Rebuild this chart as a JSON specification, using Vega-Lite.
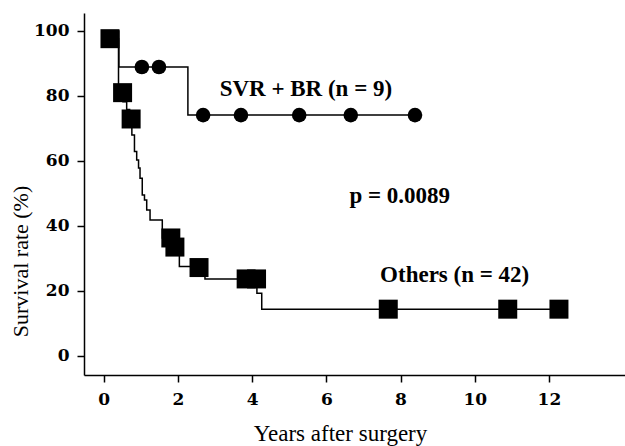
{
  "$schema": "https://vega.github.io/schema/vega-lite/v6.json",
  "width": 541,
  "height": 362,
  "autosize": {"type": "none"},
  "padding": {"left": 84, "top": 13, "right": 0, "bottom": 71},
  "background": "white",
  "config": {
    "view": {"stroke": null},
    "axis": {
      "grid": false,
      "domainColor": "black",
      "tickColor": "black",
      "labelColor": "black",
      "titleColor": "black",
      "labelFont": "DejaVu Serif",
      "labelFontWeight": "bold",
      "labelFontSize": 17,
      "titleFont": "Liberation Serif",
      "titleFontWeight": "normal",
      "titleFontSize": 22,
      "tickSize": 7,
      "domainWidth": 1.5,
      "tickWidth": 1.5
    }
  },
  "datasets": {
    "curves": [
      {"group": "SVR", "t": 0, "s": 100},
      {"group": "SVR", "t": 0.41, "s": 88.9},
      {"group": "SVR", "t": 2.27, "s": 74.1},
      {"group": "SVR", "t": 8.39, "s": 74.1},
      {"group": "Others", "t": 0, "s": 100},
      {"group": "Others", "t": 0.10, "s": 97.6},
      {"group": "Others", "t": 0.40, "s": 83.0},
      {"group": "Others", "t": 0.52, "s": 78.2},
      {"group": "Others", "t": 0.62, "s": 75.8},
      {"group": "Others", "t": 0.70, "s": 72.9},
      {"group": "Others", "t": 0.76, "s": 68.0},
      {"group": "Others", "t": 0.83, "s": 62.9},
      {"group": "Others", "t": 0.89, "s": 60.3},
      {"group": "Others", "t": 0.94, "s": 57.8},
      {"group": "Others", "t": 0.98, "s": 54.7},
      {"group": "Others", "t": 1.04, "s": 49.5},
      {"group": "Others", "t": 1.10, "s": 48.0},
      {"group": "Others", "t": 1.16, "s": 44.9},
      {"group": "Others", "t": 1.25, "s": 41.8},
      {"group": "Others", "t": 1.58, "s": 36.3},
      {"group": "Others", "t": 1.85, "s": 33.5},
      {"group": "Others", "t": 2.04, "s": 27.5},
      {"group": "Others", "t": 2.73, "s": 23.7},
      {"group": "Others", "t": 4.13, "s": 19.3},
      {"group": "Others", "t": 4.26, "s": 14.4},
      {"group": "Others", "t": 12.27, "s": 14.4}
    ],
    "squares": [
      {"t": 0.17, "s": 97.6},
      {"t": 0.51, "s": 81.0},
      {"t": 0.74, "s": 72.9},
      {"t": 1.81, "s": 36.3},
      {"t": 1.92, "s": 33.5},
      {"t": 2.57, "s": 27.2},
      {"t": 3.84, "s": 23.7},
      {"t": 4.12, "s": 23.7},
      {"t": 7.67, "s": 14.4},
      {"t": 10.89, "s": 14.4},
      {"t": 12.27, "s": 14.4}
    ],
    "circles": [
      {"t": 1.03, "s": 88.9},
      {"t": 1.49, "s": 88.9},
      {"t": 2.68, "s": 74.1},
      {"t": 3.70, "s": 74.1},
      {"t": 5.27, "s": 74.1},
      {"t": 6.66, "s": 74.1},
      {"t": 8.39, "s": 74.1}
    ],
    "labels": [
      {"t": 5.45, "s": 82.2, "text": "SVR + BR (n = 9)"},
      {"t": 7.98, "s": 49.2, "text": "p = 0.0089"},
      {"t": 9.46, "s": 24.9, "text": "Others (n = 42)"}
    ]
  },
  "layer": [
    {
      "data": {"name": "curves"},
      "mark": {"type": "line", "interpolate": "step-after", "color": "black", "strokeWidth": 1.5},
      "encoding": {
        "x": {
          "field": "t", "type": "quantitative",
          "scale": {"domain": [-0.53, 14.05], "nice": false, "zero": false},
          "axis": {
            "values": [0, 2, 4, 6, 8, 10, 12],
            "title": "Years after surgery",
            "titleFontSize": 23,
            "labelPadding": 9,
            "titleX": 256,
            "titleY": 58,
            "titleBaseline": "middle",
            "titleAlign": "center"
          }
        },
        "y": {
          "field": "s", "type": "quantitative",
          "scale": {"domain": [-5.85, 105.5], "nice": false, "zero": false},
          "axis": {
            "values": [0, 20, 40, 60, 80, 100],
            "title": "Survival rate (%)",
            "labelPadding": 8,
            "titleX": -64,
            "titleY": 248,
            "titleAngle": 270,
            "titleBaseline": "middle",
            "titleAlign": "center"
          }
        },
        "detail": {"field": "group", "type": "nominal"}
      }
    },
    {
      "data": {"name": "squares"},
      "mark": {"type": "point", "shape": "square", "filled": true, "color": "black", "size": 361, "opacity": 1},
      "encoding": {
        "x": {"field": "t", "type": "quantitative"},
        "y": {"field": "s", "type": "quantitative"}
      }
    },
    {
      "data": {"name": "circles"},
      "mark": {"type": "point", "shape": "circle", "filled": true, "color": "black", "size": 214, "opacity": 1},
      "encoding": {
        "x": {"field": "t", "type": "quantitative"},
        "y": {"field": "s", "type": "quantitative"}
      }
    },
    {
      "data": {"name": "labels"},
      "mark": {"type": "text", "font": "Liberation Serif", "fontSize": 23, "fontWeight": "bold", "color": "black", "align": "center", "baseline": "middle"},
      "encoding": {
        "x": {"field": "t", "type": "quantitative"},
        "y": {"field": "s", "type": "quantitative"},
        "text": {"field": "text", "type": "nominal"}
      }
    }
  ]
}
